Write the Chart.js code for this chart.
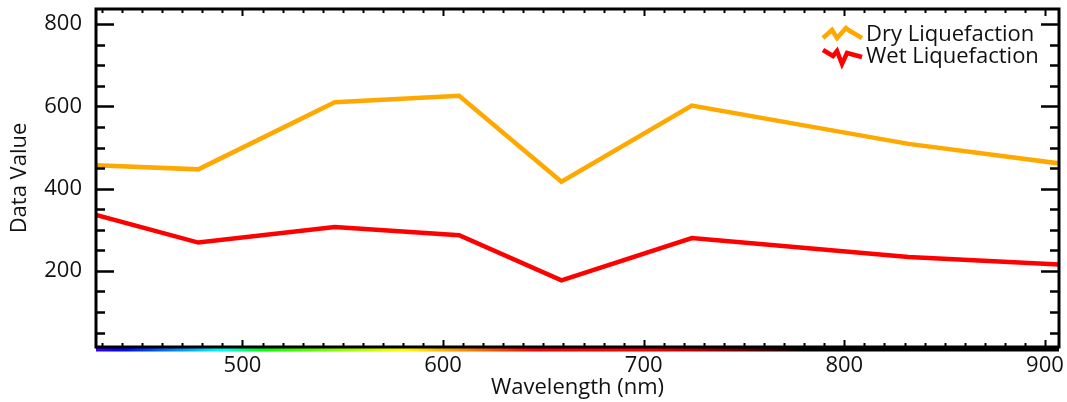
<!DOCTYPE html>
<html>
<head>
<meta charset="utf-8">
<script src="https://cdn.jsdelivr.net/npm/chart.js@4.4.1/dist/chart.umd.min.js"></script>
<style>
html,body{margin:0;padding:0;background:#fff;}
#wrap{width:1067px;height:402px;position:relative;}
</style>
</head>
<body>
<div id="wrap"><canvas id="c" width="1067" height="402"></canvas></div>
<script>
// ---- data ----
const wavelengths = [427, 478, 546, 608, 659, 724, 832, 949];
const dryLiquefaction = [457, 447, 610, 626, 417, 602, 509, 435];
const wetLiquefaction = [336, 269, 307, 287, 177, 280, 234, 205];
const seriesNames = ['Dry Liquefaction', 'Wet Liquefaction'];
const xTickLabels = [500, 600, 700, 800, 900];
const yTickLabels = [200, 400, 600, 800];
const xRange = [427, 907];
const yRange = [15, 837];
const xMinorStep = 10;
const yMinorStep = 50;

const FONT = '"Open Sans", "Noto Sans", sans-serif';

function toPts(xs, ys){ return xs.map((x,i)=>({x:x, y:ys[i]})); }

function waveColor(w){
  let r=0,g=0,b=0;
  if (w>=380 && w<440){ r=-(w-440)/(440-380); g=0; b=1; }
  else if (w<490){ r=0; g=(w-440)/(490-440); b=1; }
  else if (w<510){ r=0; g=1; b=-(w-510)/(510-490); }
  else if (w<580){ r=(w-510)/(580-510); g=1; b=0; }
  else if (w<645){ r=1; g=-(w-645)/(645-580); b=0; }
  else if (w<=780){ r=1; g=0; b=0; }
  let f=1;
  if (w>700 && w<=780) f = 1 - (w-700)/80;
  if (w>780) f = 0;
  if (w<420) f = 0.5 + 0.5*(w-380)/40;
  return 'rgb('+Math.round(r*f*255)+','+Math.round(g*f*255)+','+Math.round(b*f*255)+')';
}

const framePlugin = {
  id: 'frame',
  afterDraw(chart){
    const ctx = chart.ctx;
    const a = chart.chartArea;
    const xs = chart.scales.x, ys = chart.scales.y;
    ctx.save();
    // spectral bar under the x axis
    const grad = ctx.createLinearGradient(a.left, 0, a.right, 0);
    for (let w = xs.min; w <= xs.max; w += 5){
      const p = (xs.getPixelForValue(w) - a.left)/(a.right - a.left);
      grad.addColorStop(Math.min(1,Math.max(0,p)), waveColor(w));
    }
    ctx.fillStyle = grad;
    ctx.fillRect(a.left, a.bottom + 1, a.right - a.left, 3.5);

    ctx.strokeStyle = '#000';
    ctx.lineCap = 'butt';
    // y ticks (left & right, inward)
    ctx.lineWidth = 2.5;
    for (let v = Math.ceil(ys.min / yMinorStep) * yMinorStep; v <= ys.max; v += yMinorStep){
      const y = Math.round(ys.getPixelForValue(v)) + 0.5;
      const major = yTickLabels.includes(v);
      const L = major ? 18 : 9;
      ctx.beginPath();
      ctx.moveTo(a.left, y); ctx.lineTo(a.left + L, y);
      ctx.moveTo(a.right, y); ctx.lineTo(a.right - L, y);
      ctx.stroke();
    }
    // x ticks (bottom & top, inward)
    ctx.lineWidth = 2;
    for (let v = Math.ceil(xs.min / xMinorStep) * xMinorStep; v <= xs.max; v += xMinorStep){
      const x = Math.round(xs.getPixelForValue(v)) + 0.5;
      const major = xTickLabels.includes(v);
      const L = major ? 7 : 4;
      ctx.beginPath();
      ctx.moveTo(x, a.bottom); ctx.lineTo(x, a.bottom - L);
      ctx.moveTo(x, a.top); ctx.lineTo(x, a.top + L);
      ctx.stroke();
    }
    // frame
    ctx.lineWidth = 3;
    ctx.strokeRect(a.left, a.top, a.right - a.left, a.bottom - a.top);

    // legend with zigzag icons
    const ds = chart.data.datasets;
    const icons = [
      [[0,10],[9,2],[14,10],[23,0],[27,3],[39,10]],
      [[0,0],[10,6],[14,1],[19,14],[24,3],[39,7]]
    ];
    const iconX = 823, textX = 866, baseY = [33, 55];
    ctx.font = '22px ' + FONT;
    ctx.textBaseline = 'middle';
    ctx.textAlign = 'left';
    ds.forEach((d, i) => {
      ctx.strokeStyle = d.borderColor;
      ctx.lineWidth = 4.5;
      ctx.lineJoin = 'miter';
      ctx.beginPath();
      icons[i].forEach((p, k) => {
        const px = iconX + p[0], py = baseY[i] - 5 + p[1];
        if (k === 0) ctx.moveTo(px, py); else ctx.lineTo(px, py);
      });
      ctx.stroke();
      ctx.fillStyle = '#111';
      ctx.fillText(d.label, textX, baseY[i] + 2);
    });
    ctx.restore();
  }
};

function noPad(s){ s.paddingTop = 0; s.paddingBottom = 0; s.paddingLeft = 0; s.paddingRight = 0; }

new Chart(document.getElementById('c'), {
  type: 'line',
  data: {
    datasets: [
      { label: seriesNames[0], data: toPts(wavelengths, dryLiquefaction), borderColor: '#FFA800', borderWidth: 4.5, pointRadius: 0, fill: false, tension: 0, clip: 0 },
      { label: seriesNames[1], data: toPts(wavelengths, wetLiquefaction), borderColor: '#FF0000', borderWidth: 4.5, pointRadius: 0, fill: false, tension: 0, clip: 0 }
    ]
  },
  options: {
    responsive: false,
    animation: false,
    layout: { padding: { top: 9, right: 8, left: 0, bottom: 0 } },
    plugins: { legend: { display: false }, tooltip: { enabled: false } },
    scales: {
      x: {
        type: 'linear',
        min: xRange[0], max: xRange[1],
        afterBuildTicks: s => { s.ticks = xTickLabels.map(v => ({ value: v })); },
        afterFit: s => { s.height = 55; noPad(s); },
        grid: { display: false, drawTicks: false },
        border: { display: false },
        ticks: { color: '#111', font: { family: FONT, size: 22 }, padding: 6, maxRotation: 0, autoSkip: false },
        title: { display: true, text: 'Wavelength (nm)', color: '#111', font: { family: FONT, size: 22 }, padding: { top: 0, bottom: 1 } }
      },
      y: {
        min: yRange[0], max: yRange[1],
        afterBuildTicks: s => { s.ticks = yTickLabels.map(v => ({ value: v })); },
        afterFit: s => { s.width = 96; noPad(s); },
        grid: { display: false, drawTicks: false },
        border: { display: false },
        ticks: { color: '#111', font: { family: FONT, size: 22 }, padding: 14 },
        title: { display: true, text: 'Data Value', color: '#111', font: { family: FONT, size: 22 }, padding: { top: 7, bottom: 0 } }
      }
    }
  },
  plugins: [framePlugin]
});
</script>
</body>
</html>
